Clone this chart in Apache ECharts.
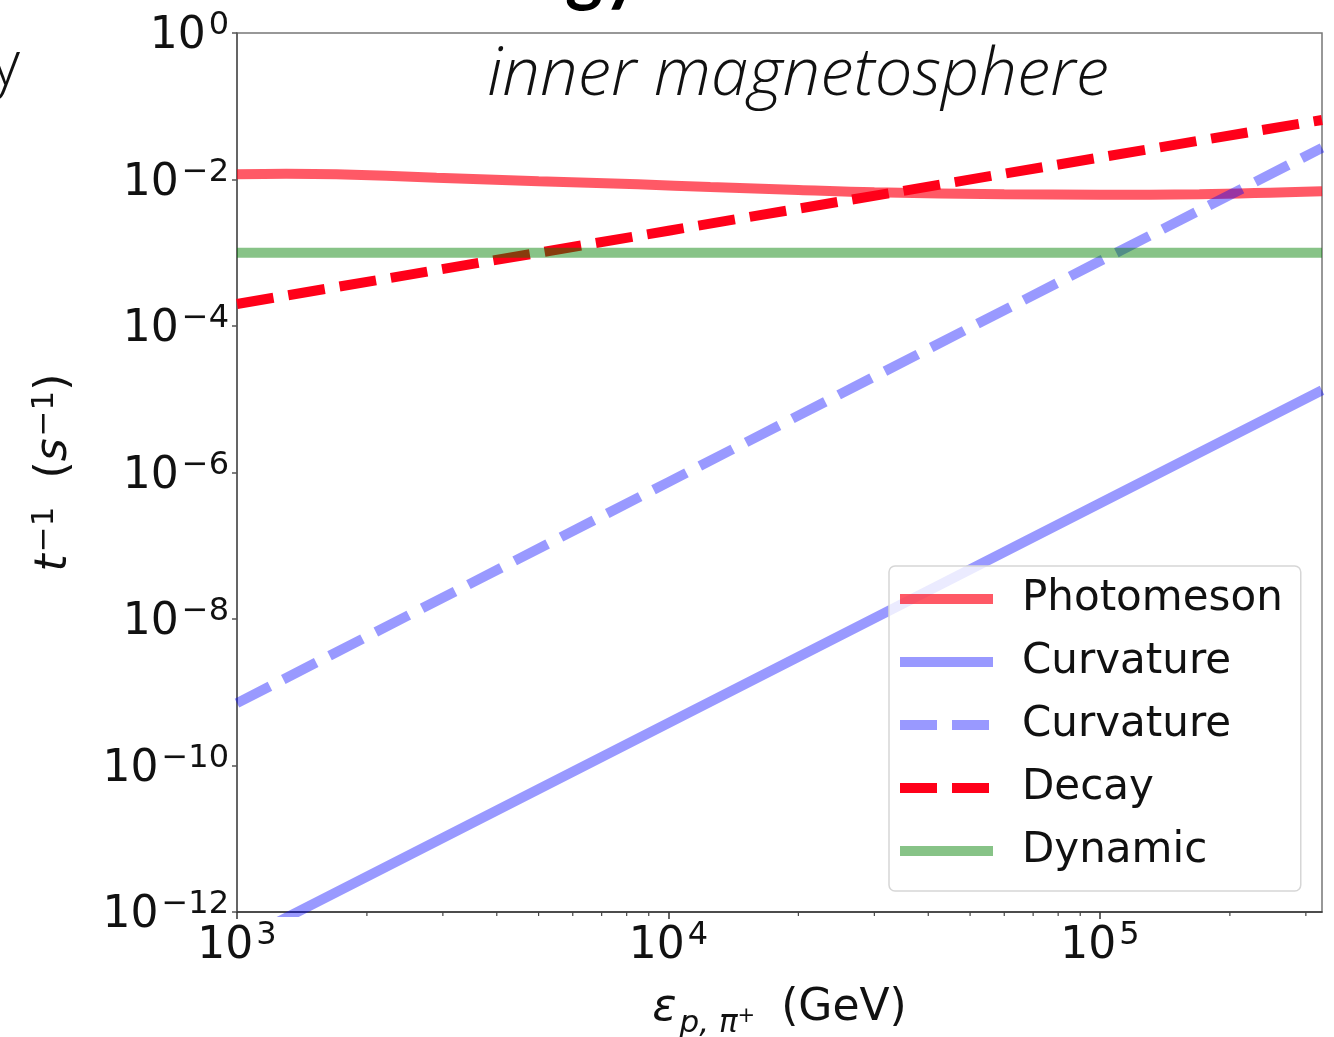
<!DOCTYPE html>
<html>
<head>
<meta charset="utf-8">
<script src="https://cdn.jsdelivr.net/npm/echarts@6/dist/echarts.min.js"></script>
<style>
html,body{margin:0;padding:0;background:#fff;}
#chart{width:1334px;height:1037px;}
</style>
</head>
<body>
<div id="chart"></div>
<script>
// ---- data ----
const seriesNames = ['Photomeson', 'Curvature', 'Curvature ', 'Decay', 'Dynamic'];

const photoE    = [1000, 1300, 1700, 2900, 5000, 8500, 12500, 20000, 30000, 60000, 100000, 170000, 327000];
const photoRate = [1.18e-2, 1.2e-2, 1.18e-2, 1.06e-2, 9.5e-3, 8.6e-3, 7.9e-3, 7.2e-3, 6.7e-3, 6.3e-3, 6.2e-3, 6.3e-3, 6.9e-3];

const curvE          = [1000, 10000, 100000, 327000];
const curvSolidRate  = [3.8e-13, 3.8e-10, 3.8e-7, 1.33e-5];
const curvDashedRate = [7.1e-10, 7.4e-7, 7.7e-4, 2.7e-2];

const decayE    = [1000, 10000, 100000, 327000];
const decayRate = [2.0e-4, 2.0e-3, 2.0e-2, 6.5e-2];

const dynE    = [1000, 327000];
const dynRate = [1e-3, 1e-3];

const xTickExps = [3, 4, 5];
const yTickExps = [0, -2, -4, -6, -8, -10, -12];
const xMinorTicks = [2000,3000,4000,5000,6000,7000,8000,9000,20000,30000,40000,50000,60000,70000,80000,90000,200000,300000];

const xMin = 1000, xMax = 327000, yMin = 1e-12, yMax = 1;

const zip = (a, b) => a.map((v, i) => [v, b[i]]);
const sup = n => String(n).replace('-', '\u2212');
const FONT = 'DejaVu Sans';

const tickRich = {
  b: {fontSize: 44, fontFamily: FONT, color: '#111', lineHeight: 52, verticalAlign: 'bottom'},
  s: {fontSize: 32, fontFamily: FONT, color: '#111', lineHeight: 52, verticalAlign: 'bottom', padding: [0, 0, 17, 3]}
};

function expFormatter(list) {
  return function (v) {
    const e = Math.round(Math.log10(v));
    if (Math.abs(Math.log10(v) - e) > 1e-6 || list.indexOf(e) < 0) return '';
    return '{b|10}{s|' + sup(e) + '}';
  };
}

const chart = echarts.init(document.getElementById('chart'), null, {renderer: 'canvas'});

const lw = 10;
const colors = ['rgba(255,0,20,0.65)', 'rgba(0,0,255,0.4)', 'rgba(0,0,255,0.4)', 'rgb(255,0,25)', 'rgba(0,128,0,0.47)'];
const dash = [37, 15];

const option = {
  animation: false,
  backgroundColor: '#fff',
  grid: {left: 237, top: 33, right: 12, bottom: 125, containLabel: false, outerBoundsMode: 'none',
         show: true, borderColor: '#777', borderWidth: 1.5, backgroundColor: 'transparent'},
  xAxis: {
    type: 'log', min: xMin, max: xMax, logBase: 10, interval: 1,
    axisLine: {show: true, onZero: false, lineStyle: {color: '#333', width: 1.5}},
    axisTick: {show: true, length: 7, lineStyle: {color: '#333', width: 1.5}},
    splitLine: {show: false},
    minorTick: {show: false},
    axisLabel: {margin: 5, formatter: expFormatter(xTickExps), rich: tickRich, showMaxLabel: false},
    name: '{e|\u03b5}{sub|p, \u03c0}{sp|+}{t| (GeV)}',
    nameLocation: 'middle', nameGap: 63,
    nameTextStyle: {
      rich: {
        e: {fontSize: 45, fontFamily: FONT, fontStyle: 'italic', color: '#111', lineHeight: 56, verticalAlign: 'bottom'},
        sub: {fontSize: 31, fontFamily: FONT, fontStyle: 'italic', color: '#111', lineHeight: 56, verticalAlign: 'bottom', padding: [0, 0, -8, 3]},
        sp: {fontSize: 21, fontFamily: FONT, color: '#111', lineHeight: 56, verticalAlign: 'bottom', padding: [0, 12, 4, 0]},
        t: {fontSize: 44, fontFamily: FONT, color: '#111', lineHeight: 56, verticalAlign: 'bottom'}
      }
    }
  },
  yAxis: {
    type: 'log', min: yMin, max: yMax, logBase: 10, interval: 2,
    axisLine: {show: true, onZero: false, lineStyle: {color: '#555', width: 1.5}},
    axisTick: {show: true, length: 5, lineStyle: {color: '#555', width: 1.5}},
    splitLine: {show: false},
    axisLabel: {margin: 8, formatter: expFormatter(yTickExps), rich: tickRich},
    name: '{t|t}{s|\u22121}{p|  (}{t|s}{s|\u22121}{p|)}',
    nameLocation: 'middle', nameGap: 160, nameRotate: 90,
    nameTextStyle: {
      rich: {
        t: {fontSize: 44, fontFamily: FONT, fontStyle: 'italic', color: '#111', lineHeight: 54, verticalAlign: 'bottom'},
        s: {fontSize: 31, fontFamily: FONT, color: '#111', lineHeight: 54, verticalAlign: 'bottom', padding: [0, 0, 17, 2]},
        p: {fontSize: 44, fontFamily: FONT, color: '#111', lineHeight: 54, verticalAlign: 'bottom'}
      }
    }
  },
  legend: {
    show: true, orient: 'vertical', left: 889, top: 566,
    data: seriesNames,
    itemWidth: 93, itemHeight: 14, itemGap: 21,
    padding: [12, 18, 19, 6],
    borderColor: '#d6d6d6', borderWidth: 1.5, borderRadius: 6,
    backgroundColor: 'rgba(255,255,255,0.8)',
    itemStyle: {opacity: 0},
    lineStyle: {width: 10},
    textStyle: {fontSize: 42, fontFamily: FONT, color: '#111', lineHeight: 40, padding: [0, 0, 0, 24]},
    selectedMode: false
  },
  graphic: [
    {type: 'text', style: {text: 'inner magnetosphere', x: 798, y: 76, align: 'center', verticalAlign: 'middle', font: 'italic 300 67px "Open Sans"', fill: '#111'}},
    {type: 'text', style: {text: 'y', x: 20, y: 98, align: 'right', verticalAlign: 'bottom', font: '300 62px "Open Sans"', fill: '#111'}},
    {type: 'text', style: {text: 'gy', x: 603, y: 10, align: 'center', verticalAlign: 'bottom', font: 'bold 72px Lato', fill: '#000'}}
  ],
  series: [
    {name: seriesNames[0], type: 'line', data: zip(photoE, photoRate), smooth: 0.4, symbol: 'none',
     lineStyle: {color: colors[0], width: lw}, itemStyle: {color: colors[0]}},
    {name: seriesNames[1], type: 'line', data: zip(curvE, curvSolidRate), symbol: 'none',
     lineStyle: {color: colors[1], width: lw}, itemStyle: {color: colors[1]}},
    {name: seriesNames[2], type: 'line', data: zip(curvE, curvDashedRate), symbol: 'none',
     lineStyle: {color: colors[2], width: lw, type: dash, cap: 'butt'}, itemStyle: {color: colors[2]}},
    {name: seriesNames[3], type: 'line', data: zip(decayE, decayRate), symbol: 'none',
     lineStyle: {color: colors[3], width: lw, type: dash, cap: 'butt'}, itemStyle: {color: colors[3]}},
    {name: seriesNames[4], type: 'line', data: zip(dynE, dynRate), symbol: 'none',
     lineStyle: {color: colors[4], width: lw}, itemStyle: {color: colors[4]}},
    {name: 'minorTicks', type: 'custom', clip: false, silent: true,
     data: xMinorTicks.map(v => [v, yMin]),
     renderItem: function (params, api) {
       const p = api.coord([api.value(0), api.value(1)]);
       return {type: 'line', shape: {x1: p[0], y1: p[1], x2: p[0], y2: p[1] + 4},
               style: {stroke: '#444', lineWidth: 1.2}};
     }}
  ]
};
chart.setOption(option);
</script>
</body>
</html>
